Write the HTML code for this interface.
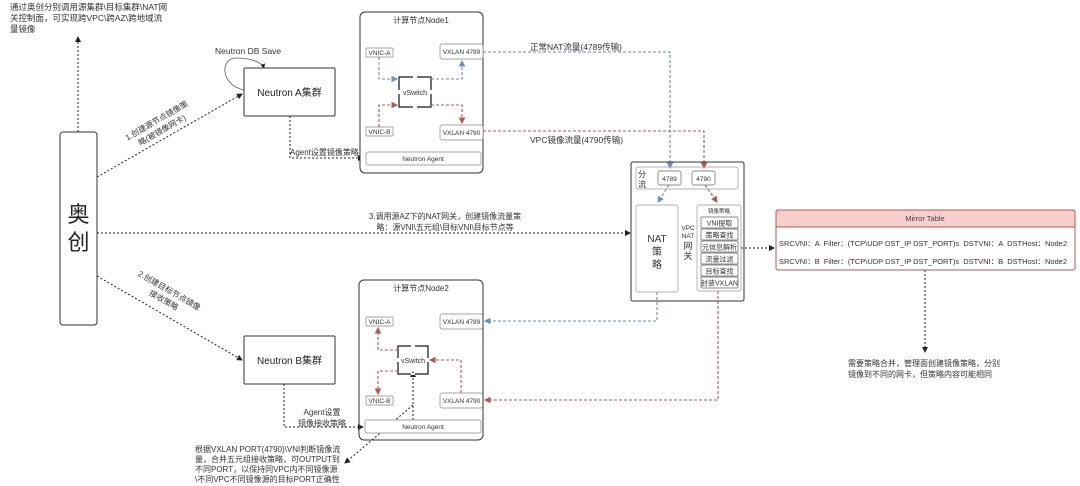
<!DOCTYPE html>
<html><head><meta charset="utf-8"><style>
body{margin:0;background:#fff}
svg{display:block;font-family:"Liberation Sans","Noto Sans CJK SC",sans-serif}
text{white-space:pre}
</style></head><body>
<svg width="1080" height="486" viewBox="0 0 1080 486" xmlns="http://www.w3.org/2000/svg">
<defs>
<marker id="ak" markerWidth="6" markerHeight="6" refX="5" refY="3" orient="auto"><path d="M0,0 L6,3 L0,6 z" fill="#222"/></marker>
<marker id="ab" markerWidth="6" markerHeight="6" refX="5" refY="3" orient="auto"><path d="M0,0 L6,3 L0,6 z" fill="#6c8ebf"/></marker>
<marker id="ar" markerWidth="6" markerHeight="6" refX="5" refY="3" orient="auto"><path d="M0,0 L6,3 L0,6 z" fill="#b85450"/></marker>
</defs>
<g font-size="8.5" fill="#333">
<text x="10" y="10">通过奥创分别调用源集群\目标集群\NAT网</text>
<text x="10" y="21">关控制面，可实现跨VPC\跨AZ\跨地域流</text>
<text x="10" y="32">量镜像</text>
</g>
<g fill="none" stroke="#222" stroke-width="1" stroke-dasharray="2,2">
<line x1="78" y1="132" x2="78" y2="37" marker-end="url(#ak)"/>
<line x1="97" y1="177" x2="242" y2="94" marker-end="url(#ak)"/>
<line x1="97" y1="276" x2="242" y2="360" marker-end="url(#ak)"/>
<line x1="97" y1="233" x2="630" y2="233" marker-end="url(#ak)"/>
<polyline points="290,116 290,158 363,158" marker-end="url(#ak)"/>
<polyline points="284,384 284,427 363,427" marker-end="url(#ak)"/>
<line x1="741" y1="248" x2="774" y2="248" marker-end="url(#ak)"/>
<line x1="925" y1="270" x2="925" y2="352" marker-end="url(#ak)"/>
<line x1="413" y1="405" x2="345" y2="463" marker-end="url(#ak)"/>
<line x1="413" y1="420" x2="413" y2="372" marker-end="url(#ak)"/>
</g>
<path d="M244,90 C220,85 220,58 236,58 C250,58 262,62 264,68" fill="none" stroke="#555" stroke-width="0.8" marker-end="url(#ak)"/>
<rect x="60" y="132" width="37" height="193" rx="3" fill="#fff" stroke="#333"/>
<text x="78.5" y="222" font-size="22" text-anchor="middle" fill="#222">奥</text>
<text x="78.5" y="250" font-size="22" text-anchor="middle" fill="#222">创</text>
<text x="215" y="54" font-size="8.5" fill="#333">Neutron DB Save</text>
<rect x="244" y="68" width="91" height="48" rx="1" fill="#fff" stroke="#333"/>
<text x="289.5" y="96" font-size="10" text-anchor="middle" fill="#222">Neutron A集群</text>
<rect x="244" y="336" width="91" height="48" rx="1" fill="#fff" stroke="#333"/>
<text x="289.5" y="364" font-size="10" text-anchor="middle" fill="#222">Neutron B集群</text>
<g font-size="8" fill="#333" text-anchor="middle">
<g transform="translate(158,123) rotate(-30)"><text x="0" y="0">1.创建源节点镜像策</text><text x="0" y="11">略(被镜像网卡)</text></g>
<g transform="translate(168,293) rotate(30)"><text x="0" y="0">2.创建目标节点镜像</text><text x="0" y="11">接收策略</text></g>
<text x="445" y="219">3.调用源AZ下的NAT网关，创建镜像流量策</text>
<text x="445" y="230">略：源VNI\五元组\目标VNI\目标节点等</text>
<text x="322" y="415">Agent设置</text>
<text x="322" y="426">镜像接收策略</text>
</g>
<g font-size="8" fill="#333">
<text x="290" y="155">Agent设置镜像策略</text>
<text x="530" y="50" font-size="8.5">正常NAT流量(4789传输)</text>
<text x="530" y="143" font-size="8.5">VPC镜像流量(4790传输)</text>
<text x="195" y="452">根据VXLAN PORT(4790)\VNI判断镜像流</text>
<text x="195" y="462">量，合并五元组接收策略，可OUTPUT到</text>
<text x="195" y="472">不同PORT，以保持同VPC内不同镜像源</text>
<text x="195" y="482">\不同VPC不同镜像源的目标PORT正确性</text>
<text x="848" y="366">需要策略合并，管理面创建镜像策略，分别</text>
<text x="848" y="377">镜像到不同的网卡，但策略内容可能相同</text>
</g>
<!-- Node1 -->
<rect x="360" y="12" width="123" height="161" rx="5" fill="#fff" stroke="#333"/>
<text x="421" y="23" font-size="8" text-anchor="middle" fill="#333">计算节点Node1</text>
<g font-size="7" fill="#333" stroke="#888" stroke-width="0.7">
<rect x="366" y="48" width="27" height="9" rx="1" fill="#fff"/>
<rect x="440" y="44" width="43" height="15" rx="2" fill="#fff"/>
<rect x="366" y="127" width="27" height="9" rx="1" fill="#fff"/>
<rect x="440" y="125" width="43" height="15" rx="2" fill="#fff"/>
<rect x="366" y="152" width="115" height="13" rx="2" fill="#fff"/>
<rect x="366" y="317" width="27" height="9" rx="1" fill="#fff"/>
<rect x="440" y="314" width="43" height="15" rx="2" fill="#fff"/>
<rect x="366" y="396" width="27" height="9" rx="1" fill="#fff"/>
<rect x="440" y="393" width="43" height="15" rx="2" fill="#fff"/>
<rect x="365" y="420" width="116" height="13" rx="2" fill="#fff"/>
</g>
<g font-size="6.5" fill="#333" text-anchor="middle">
<text x="379.5" y="55">VNIC-A</text><text x="461.5" y="54">VXLAN 4789</text>
<text x="379.5" y="134">VNIC-B</text><text x="461.5" y="135">VXLAN 4790</text>
<text x="423" y="161">Neutron Agent</text>
<text x="379.5" y="324">VNIC-A</text><text x="461.5" y="324">VXLAN 4789</text>
<text x="379.5" y="403">VNIC-B</text><text x="461.5" y="403">VXLAN 4790</text>
<text x="423" y="429">Neutron Agent</text>
</g>
<!-- vswitches -->
<g fill="none" stroke="#222" stroke-width="1.3">
<rect x="399" y="77" width="32" height="30"/>
<rect x="398" y="346" width="30" height="28"/>
</g>
<g stroke="#fff" stroke-width="2">
<line x1="413" y1="77" x2="417" y2="77"/><line x1="413" y1="107" x2="417" y2="107"/>
<line x1="399" y1="90" x2="399" y2="94"/><line x1="431" y1="90" x2="431" y2="94"/>
<line x1="411" y1="346" x2="415" y2="346"/><line x1="411" y1="374" x2="415" y2="374"/>
<line x1="398" y1="358" x2="398" y2="362"/><line x1="428" y1="358" x2="428" y2="362"/>
</g>
<text x="415" y="95" font-size="7" text-anchor="middle" fill="#333">vSwitch</text>
<text x="413" y="363" font-size="7" text-anchor="middle" fill="#333">vSwitch</text>
<!-- Node2 -->
<rect x="359" y="280" width="124" height="160" rx="5" fill="none" stroke="#333"/>
<text x="421" y="291" font-size="8" text-anchor="middle" fill="#333">计算节点Node2</text>
<!-- colored flows -->
<g fill="none" stroke-width="1.1" stroke-dasharray="3,2">
<polyline points="379,57 379,79 397,79" stroke="#6c8ebf" marker-end="url(#ab)"/>
<polyline points="431,79 462,79 462,61" stroke="#6c8ebf" marker-end="url(#ab)"/>
<polyline points="379,127 379,105 397,105" stroke="#b85450" marker-end="url(#ar)"/>
<polyline points="431,105 462,105 462,123" stroke="#b85450" marker-end="url(#ar)"/>
<polyline points="483,52 670,52 670,168" stroke="#6c8ebf" marker-end="url(#ab)"/>
<polyline points="483,131 704,131 704,168" stroke="#b85450" marker-end="url(#ar)"/>
<line x1="669" y1="185" x2="658" y2="202" stroke="#6c8ebf" marker-end="url(#ab)"/>
<line x1="705" y1="185" x2="717" y2="202" stroke="#b85450" marker-end="url(#ar)"/>
<polyline points="657,292 657,321 485,321" stroke="#6c8ebf" marker-end="url(#ab)"/>
<polyline points="718,291 718,400 485,400" stroke="#b85450" marker-end="url(#ar)"/>
<polyline points="461,393 461,360 430,360" stroke="#b85450" marker-end="url(#ar)"/>
<polyline points="398,350 378,350 378,328" stroke="#b85450" marker-end="url(#ar)"/>
<polyline points="398,371 378,371 378,394" stroke="#b85450" marker-end="url(#ar)"/>
</g>
<!-- NAT GW -->
<rect x="631" y="162" width="113" height="139" rx="2" fill="none" stroke="#333"/>
<rect x="636" y="167" width="102" height="22" rx="2" fill="none" stroke="#999" stroke-width="0.7"/>
<text x="638" y="177" font-size="8" fill="#333">分</text>
<text x="638" y="187" font-size="8" fill="#333">流</text>
<rect x="658" y="171" width="23" height="14" rx="2" fill="#fff" stroke="#666" stroke-width="0.7"/>
<rect x="692" y="171" width="23" height="14" rx="2" fill="#fff" stroke="#666" stroke-width="0.7"/>
<text x="669.5" y="181" font-size="6.5" text-anchor="middle" fill="#333">4789</text>
<text x="703.5" y="181" font-size="6.5" text-anchor="middle" fill="#333">4790</text>
<rect x="636" y="205" width="42" height="87" rx="2" fill="#fff" stroke="#999" stroke-width="0.7"/>
<text x="657" y="242" font-size="10" text-anchor="middle" fill="#333">NAT</text>
<text x="657" y="255" font-size="10" text-anchor="middle" fill="#333">策</text>
<text x="657" y="268" font-size="10" text-anchor="middle" fill="#333">略</text>
<g font-size="6.5" fill="#333" text-anchor="middle">
<text x="688" y="230">VPC</text><text x="688" y="238">NAT</text>
</g>
<text x="688" y="249" font-size="9" text-anchor="middle" fill="#333">网</text>
<text x="688" y="259" font-size="9" text-anchor="middle" fill="#333">关</text>
<rect x="697" y="205" width="44" height="86" rx="2" fill="#fff" stroke="#999" stroke-width="0.7"/>
<text x="719" y="213" font-size="5.5" text-anchor="middle" fill="#333">镜像策略</text>
<g stroke="#666" stroke-width="0.7" fill="#fff">
<rect x="701" y="217" width="37" height="11" rx="1"/><rect x="701" y="229" width="37" height="11" rx="1"/>
<rect x="701" y="241" width="37" height="11" rx="1"/><rect x="701" y="253" width="37" height="11" rx="1"/>
<rect x="701" y="265" width="37" height="11" rx="1"/><rect x="701" y="277" width="37" height="11" rx="1"/>
</g>
<g font-size="7" fill="#333" text-anchor="middle">
<text x="719.5" y="225.5">VNI提取</text><text x="719.5" y="237.5">策略查找</text>
<text x="719.5" y="249.5">元信息解析</text><text x="719.5" y="261.5">流量过滤</text>
<text x="719.5" y="273.5">目标查找</text><text x="719.5" y="285.5">封装VXLAN</text>
</g>
<!-- Mirror table -->
<rect x="776" y="210" width="299" height="60" rx="2" fill="#fff" stroke="#b85450"/>
<path d="M778,210 H1073 A2,2 0 0 1 1075,212 V227 H776 V212 A2,2 0 0 1 778,210 z" fill="#f8cecc" stroke="#b85450"/>
<text x="925" y="221" font-size="7.5" text-anchor="middle" fill="#444">Mirror Table</text>
<text x="779" y="246" font-size="7.5" fill="#333" textLength="288" lengthAdjust="spacing">SRCVNI：A  Filter：(TCP\UDP DST_IP DST_PORT)s  DSTVNI：A  DSTHost：Node2</text>
<text x="779" y="264" font-size="7.5" fill="#333" textLength="288" lengthAdjust="spacing">SRCVNI：B  Filter：(TCP\UDP DST_IP DST_PORT)s  DSTVNI：B  DSTHost：Node2</text>
</svg>
</body></html>
